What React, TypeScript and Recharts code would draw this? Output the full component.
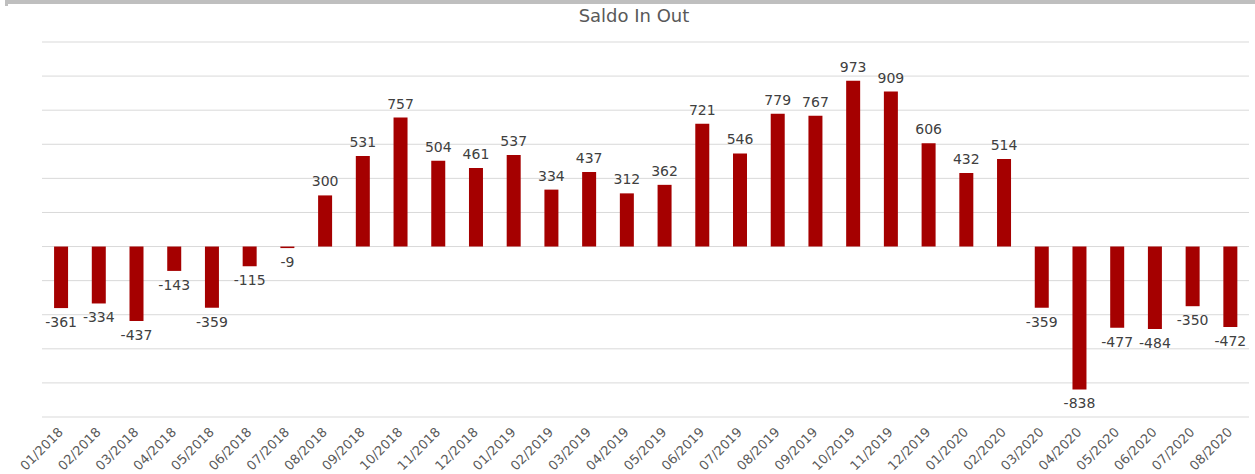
import { BarChart, Bar, XAxis, YAxis, CartesianGrid, LabelList } from 'recharts';

const months = [
  '01/2018', '02/2018', '03/2018', '04/2018', '05/2018', '06/2018', '07/2018', '08/2018',
  '09/2018', '10/2018', '11/2018', '12/2018', '01/2019', '02/2019', '03/2019', '04/2019',
  '05/2019', '06/2019', '07/2019', '08/2019', '09/2019', '10/2019', '11/2019', '12/2019',
  '01/2020', '02/2020', '03/2020', '04/2020', '05/2020', '06/2020', '07/2020', '08/2020',
];

const saldo = [
  -361, -334, -437, -143, -359, -115, -9, 300,
  531, 757, 504, 461, 537, 334, 437, 312,
  362, 721, 546, 779, 767, 973, 909, 606,
  432, 514, -359, -838, -477, -484, -350, -472,
];

const yTicks = [-1000, -800, -600, -400, -200, 0, 200, 400, 600, 800, 1000, 1200];

const data = months.map((m, i) => ({ month: m, value: saldo[i] }));

const FONT = '"DejaVu Sans", sans-serif';

const MonthTick = ({ x, y, payload }: any) => (
  <text
    transform={`translate(${x + 3}, ${y + 8}) rotate(-45)`}
    textAnchor="end"
    fontSize={13}
    fontFamily={FONT}
    fill="#595959"
  >
    {payload.value}
  </text>
);

const ValueLabel = ({ x, y, width, height, value }: any) => {
  const top = Math.min(y, y + height);
  const bottom = Math.max(y, y + height);
  const cx = x + width / 2;
  const ty = value >= 0 ? top - 9 : bottom + 19;
  return (
    <text x={cx} y={ty} textAnchor="middle" fontSize={14} fontFamily={FONT} fill="#404040">
      {value}
    </text>
  );
};

export default function App() {
  return (
    <div style={{ position: 'absolute', left: 0, top: 0, width: 1255, height: 474, background: '#fff' }}>
      <div style={{ position: 'absolute', left: 5, top: 0, width: 1250, height: 4, background: '#bfbfbf' }} />
      <div style={{ position: 'absolute', left: 5, top: 0, width: 3, height: 6, background: '#bfbfbf' }} />
      <div
        style={{
          position: 'absolute', left: 0, top: 5, width: 1268, textAlign: 'center',
          fontFamily: FONT, fontSize: 18, color: '#595959',
        }}
      >
        Saldo In Out
      </div>
      <BarChart
        width={1255}
        height={474}
        data={data}
        margin={{ top: 42, right: 6, left: 42, bottom: 0 }}
        barCategoryGap="32%"
      >
        <CartesianGrid vertical={false} stroke="#d9d9d9" />
        <YAxis hide domain={[-1000, 1200]} ticks={yTicks} />
        <XAxis
          dataKey="month"
          interval={0}
          axisLine={false}
          tickLine={false}
          height={57}
          tick={<MonthTick />}
        />
        <Bar dataKey="value" fill="#a50000" isAnimationActive={false}>
          <LabelList dataKey="value" content={<ValueLabel />} />
        </Bar>
      </BarChart>
    </div>
  );
}
